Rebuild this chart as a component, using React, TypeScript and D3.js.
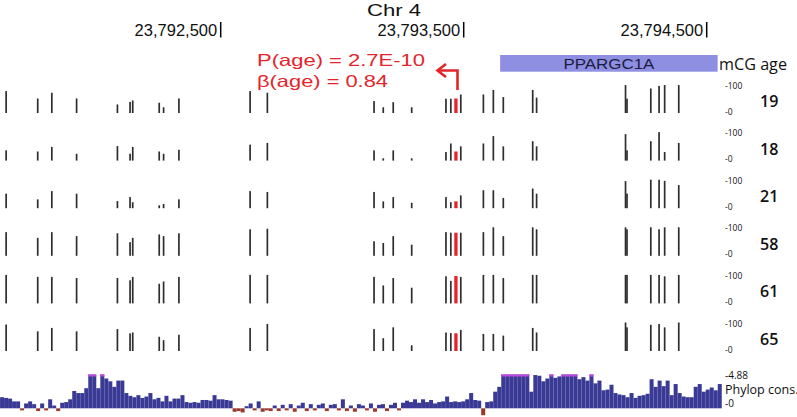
import React from "react";
import * as d3 from "d3";

const W = 797;
const H = 417;

const tickPositions = [23792500, 23793500, 23794500];
const tickLabels = ["23,792,500", "23,793,500", "23,794,500"];

const cpgPositions = [
  23791617, 23791747, 23791805, 23791907, 23792075, 23792127, 23792138, 23792247, 23792265, 23792328,
  23792621, 23792692, 23793131, 23793169, 23793210, 23793286, 23793427, 23793447, 23793468, 23793488,
  23793581, 23793622, 23793663, 23793784, 23793800, 23794166, 23794172, 23794270, 23794304, 23794327, 23794385,
];
const redSiteIndex = 18;

const ages = ["19", "18", "21", "58", "61", "65"];

const mCG19 = [77, 51, 71, 51, 30, 39, 44, 36, 20, 51, 77, 71, 42, 20, 38, 20, 50, 50, 51, 65, 65, 81, 56, 81, 54, 98, 50, 86, 95, 98, 98];
const mCG18 = [36, 32, 48, 24, 51, 24, 48, 32, 24, 38, 56, 62, 36, 8, 36, 8, 30, 60, 32, 50, 60, 86, 50, 68, 50, 93, 36, 68, 100, 30, 62];
const mCG21 = [51, 31, 60, 51, 25, 39, 21, 10, 15, 31, 60, 57, 57, 24, 39, 19, 39, 21, 24, 45, 63, 63, 36, 69, 51, 95, 51, 100, 100, 96, 81];
const mCG58 = [83, 63, 83, 69, 79, 48, 63, 75, 69, 79, 93, 95, 51, 45, 69, 39, 83, 81, 81, 81, 83, 100, 69, 100, 93, 100, 93, 100, 93, 100, 100];
const mCG61 = [100, 93, 93, 89, 89, 81, 93, 69, 77, 93, 100, 100, 93, 63, 89, 55, 95, 79, 96, 93, 100, 100, 89, 100, 100, 100, 100, 100, 100, 95, 100];
const mCG65 = [93, 69, 81, 69, 77, 62, 65, 50, 38, 57, 81, 95, 77, 45, 83, 20, 65, 63, 62, 74, 60, 60, 54, 81, 65, 100, 83, 92, 95, 83, 100];
const mCGRows = [mCG19, mCG18, mCG21, mCG58, mCG61, mCG65];

const geneName = "PPARGC1A";
const geneStart = 23793650;
const geneEnd = 23794545;

const phyloStart = 23791592;
const phyloStep = 16.5;
const phyloMax = 4.88;
const phyloValues = [
  1.6, 1.5, 1.4, 1.0, 1.0, -0.3, 0.7, 1.0, 0.6, -0.4,
  0.7, -0.3, 1.3, 0.4, -0.4, 0.8, 0.9, 1.3, 2.5, 2.2,
  2.2, 2.9, 6, 6, 2.9, 6, 4.3, 3.9, 3.1, 4.0,
  4.0, 2.2, 1.8, 1.6, 1.9, 1.5, 1.7, 2.2, 1.3, 1.5,
  1.0, 1.8, 1.0, 1.4, 1.4, 1.9, 0.9, 0.8, 0.9, 0.8,
  1.2, 1.2, 1.1, 1.9, 1.3, 1.3, 1.2, 1.1, -0.5, -0.4,
  -0.6, 0.3, 0.7, -0.3, 1.0, -0.5, -0.3, -0.4, 0.4, -0.4,
  0.5, -0.3, 0.6, -0.5, 0.4, 0.8, -0.4, 0.6, -0.3, 0.5,
  0.7, -0.4, 0.5, 0.6, -0.3, 1.3, -0.4, 0.4, -0.5, 0.6,
  0.4, -0.3, 0.7, -0.5, 0.5, 0.6, -0.4, 0.5, 0.8, -0.3,
  0.8, 1.1, 0.9, 1.3, 0.8, 1.3, 0.9, 1.2, 0.7, 0.9,
  1.0, 1.7, 0.9, 1.0, 0.9, 1.0, 1.3, 2.2, 1.2, 1.1,
  -1.0, 0.9, 1.0, 2.4, 3.1, 6, 6, 6, 6, 6,
  6, 6, 2.4, 4.8, 4.7, 3.9, 4.3, 6, 4.4, 4.6,
  6, 6, 6, 6, 4.2, 4.5, 4.0, 6, 3.6, 4.0,
  2.6, 2.7, 3.4, 2.2, 2.0, 1.9, 1.6, 2.2, 1.5, 1.8,
  1.9, 2.1, 4.2, 3.1, 4.0, 3.2, 4.0, 1.9, 3.5, 2.2,
  1.7, 1.6, 1.6, 3.1, 3.5, 2.4, 2.7, 3.0, 2.6, 3.5,
];

const pLabel = "P(age) = 2.7E-10";
const betaLabel = "\u03B2(age) = 0.84";

const RED = "#e3242b";
const SANS = "'Liberation Sans', Arial, Helvetica, sans-serif";
const HUM = "'Open Sans', 'Noto Sans', sans-serif";

export default function App() {
  const x = d3.scaleLinear().domain([23792500, 23794500]).range([220.7, 706.7]);

  const rowBase = (i: number) => 113 + 47.6 * i;
  const trackH = 28.5;
  const yPct = d3.scaleLinear().domain([0, 100]).range([0, trackH]);

  const phyloBase = 408.3;
  const yPhylo = d3.scaleLinear().domain([0, phyloMax]).range([phyloBase, 374.5]);
  const binW = x(phyloStart + phyloStep) - x(phyloStart);

  return (
    <svg
      width={W}
      height={H}
      style={{ position: "absolute", left: 0, top: 0, background: "#fff" }}
    >
      <rect x={0} y={0} width={W} height={H} fill="#fff" />
      {/* title */}
      <text x={367} y={15.5} fontFamily={SANS} fontSize={17} textLength={54} lengthAdjust="spacingAndGlyphs" fill="#111">
        Chr 4
      </text>
      {/* ticks */}
      {tickPositions.map((p, i) => (
        <g key={p}>
          <line x1={x(p)} x2={x(p)} y1={22} y2={37.5} stroke="#000" strokeWidth={1.5} />
          <text x={x(p) - 3.5} y={36} textAnchor="end" fontFamily={SANS} fontSize={16.5} fill="#111">
            {tickLabels[i]}
          </text>
        </g>
      ))}
      {/* gene */}
      <rect x={x(geneStart)} y={55} width={x(geneEnd) - x(geneStart)} height={16.7} fill="#8e8ee2" />
      <text
        x={(x(geneStart) + x(geneEnd)) / 2}
        y={69}
        textAnchor="middle"
        fontFamily={SANS}
        fontSize={14}
        textLength={91}
        lengthAdjust="spacingAndGlyphs"
        fill="#1c1c40"
      >
        {geneName}
      </text>
      <text x={719} y={69.5} fontFamily={HUM} fontSize={16} textLength={68} lengthAdjust="spacingAndGlyphs" fill="#111">
        mCG age
      </text>
      {/* red annotation */}
      <text x={257} y={65.7} fontFamily={SANS} fontSize={16.5} textLength={168} lengthAdjust="spacingAndGlyphs" fill={RED}>
        {pLabel}
      </text>
      <text x={257} y={86.5} fontFamily={SANS} fontSize={16.5} textLength={131} lengthAdjust="spacingAndGlyphs" fill={RED}>
        {betaLabel}
      </text>
      <path d="M457.5,90 V70.5 H437.5" fill="none" stroke={RED} strokeWidth={2.6} />
      <path d="M446,64 L437.5,70.5 L446,77" fill="none" stroke={RED} strokeWidth={2.6} />

      {/* methylation tracks */}
      {mCGRows.map((vals, r) => {
        const base = rowBase(r);
        return (
          <g key={r}>
            {vals.map((v, i) => {
              const isRed = i === redSiteIndex;
              const w = isRed ? 3.3 : 1.7;
              const h = yPct(v);
              return (
                <rect
                  key={i}
                  x={x(cpgPositions[i]) - w / 2}
                  y={base - h}
                  width={w}
                  height={h}
                  fill={isRed ? RED : "#2e2e2e"}
                />
              );
            })}
            <text x={725} y={base - trackH + 4} fontFamily={HUM} fontSize={8.5} fill="#111">
              -100
            </text>
            <text x={725} y={base + 1.5} fontFamily={HUM} fontSize={8.5} fill="#111">
              -0
            </text>
            <text x={760} y={base - 6} fontFamily={HUM} fontSize={16} fontWeight={600} fill="#111">
              {ages[r]}
            </text>
          </g>
        );
      })}

      {/* phylop track */}
      {phyloValues.map((v, i) => {
        const x0 = x(phyloStart + i * phyloStep);
        if (v >= 0) {
          const vv = Math.min(v, phyloMax);
          const yTop = yPhylo(vv);
          return (
            <g key={i}>
              <rect x={x0} y={yTop} width={binW} height={phyloBase - yTop} fill="#3a3a96" />
              {v > phyloMax && <rect x={x0} y={yTop} width={binW} height={2} fill="#c944e6" />}
            </g>
          );
        }
        const yb = yPhylo(v);
        return <rect key={i} x={x0} y={phyloBase} width={binW} height={yb - phyloBase} fill="#9a3a2e" />;
      })}
      <text x={725} y={378.5} fontFamily={HUM} fontSize={10} fill="#111">
        -4.88
      </text>
      <text x={725} y={393.5} fontFamily={HUM} fontSize={12.5} fill="#111">
        Phylop cons.
      </text>
      <text x={725} y={407} fontFamily={HUM} fontSize={10} fill="#111">
        -0
      </text>
    </svg>
  );
}
